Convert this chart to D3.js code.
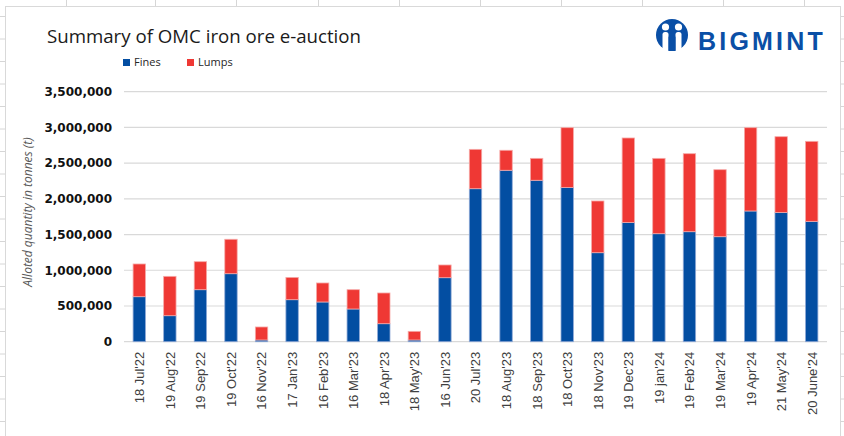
<!DOCTYPE html>
<html>
<head>
<meta charset="utf-8">
<script src="https://cdn.jsdelivr.net/npm/d3@7"></script>
<style>
  html, body { margin: 0; padding: 0; background: #ffffff; }
  svg { display: block; }
</style>
</head>
<body>
<svg id="chart" width="844" height="436"></svg>
<script>
const categories = ["18 Jul'22","19 Aug'22","19 Sep'22","19 Oct'22","16 Nov'22","17 Jan'23","16 Feb'23","16 Mar'23","18 Apr'23","18 May'23","16 Jun'23","20 Jul'23","18 Aug'23","18 Sep'23","18 Oct'23","18 Nov'23","19 Dec'23","19 jan'24","19 Feb'24","19 Mar'24","19 Apr'24","21 May'24","20 June'24"];
const fines = [630000, 364000, 728000, 952000, 24000, 588000, 556000, 458000, 252000, 24000, 896000, 2142000, 2400000, 2260000, 2160000, 1246000, 1670000, 1512000, 1540000, 1470000, 1830000, 1810000, 1685000];
const lumps = [458000, 551000, 392000, 482000, 182000, 312000, 266000, 270000, 430000, 121000, 178000, 551000, 280000, 307000, 836000, 724000, 1182000, 1055000, 1092000, 938000, 1166000, 1060000, 1120000];
const yTicks = [0, 500000, 1000000, 1500000, 2000000, 2500000, 3000000, 3500000];
const seriesNames = ["Fines", "Lumps"];
const seriesColors = ["#034ea2", "#ef3834"];
const seriesStrokes = ["#8fa9d6", "#f6a9a7"];

const svg = d3.select("#chart");

// spreadsheet background grid
const sheetV = [66, 155, 236, 318, 399, 480, 561, 642, 723, 804];
const sheetH = d3.range(0, 19).map(k => 16 + 22.5 * k);
svg.selectAll("line.sv").data(sheetV).join("line")
  .attr("x1", d => d + 0.5).attr("x2", d => d + 0.5).attr("y1", 0).attr("y2", 436)
  .attr("stroke", "#d6d6d6").attr("stroke-width", 1);
svg.selectAll("line.sh").data(sheetH).join("line")
  .attr("x1", 0).attr("x2", 844).attr("y1", d => d + 0.5).attr("y2", d => d + 0.5)
  .attr("stroke", "#d6d6d6").attr("stroke-width", 1);

// chart area
svg.append("rect").attr("x", 5.5).attr("y", 6.5).attr("width", 835).attr("height", 440)
  .attr("fill", "#ffffff").attr("stroke", "#d9d9d9").attr("stroke-width", 1);

const plotLeft = 124, plotRight = 827, plotTop = 91.7, plotBottom = 341.7;

const x = d3.scaleBand().domain(categories).range([plotLeft, plotRight])
  .paddingInner(0.595).paddingOuter(0.2975);
const y = d3.scaleLinear().domain([0, 3500000]).range([plotBottom, plotTop]);

// gridlines
svg.append("g").selectAll("line").data(yTicks).join("line")
  .attr("x1", plotLeft).attr("x2", plotRight)
  .attr("y1", d => y(d)).attr("y2", d => y(d))
  .attr("stroke", "#d9d9d9").attr("stroke-width", 1.2);

// y axis labels
const yAxis = d3.axisLeft(y).tickValues(yTicks).tickSize(0).tickPadding(0)
  .tickFormat(d3.format(","));
const gy = svg.append("g").attr("transform", `translate(112,0)`).call(yAxis);
gy.select(".domain").remove();
gy.selectAll("text")
  .attr("font-family", "DejaVu Sans, sans-serif")
  .attr("font-weight", "bold")
  .attr("font-size", 12)
  .attr("fill", "#111111");

// stacked bars
const table = categories.map((c, i) => ({ cat: c, Fines: fines[i], Lumps: lumps[i] }));
const stacked = d3.stack().keys(seriesNames)(table);
svg.append("g").selectAll("g").data(stacked).join("g")
  .attr("fill", (d, i) => seriesColors[i])
  .attr("stroke", (d, i) => seriesStrokes[i])
  .attr("stroke-width", 0.8)
  .selectAll("rect").data(d => d).join("rect")
  .attr("x", d => x(d.data.cat))
  .attr("width", x.bandwidth())
  .attr("y", d => y(d[1]))
  .attr("height", d => y(d[0]) - y(d[1]));

// x axis labels
const xAxis = d3.axisBottom(x).tickSize(0).tickPadding(0);
const gx = svg.append("g").attr("transform", `translate(0,${plotBottom})`).call(xAxis);
gx.select(".domain").remove();
gx.selectAll("text")
  .attr("font-family", "Liberation Sans, Arial, sans-serif")
  .attr("font-size", 13)
  .attr("fill", "#404040")
  .attr("text-anchor", "end")
  .attr("transform", "rotate(-90)")
  .attr("x", -10)
  .attr("y", 0)
  .attr("dx", 0)
  .attr("dy", "0.38em");

// y axis title
svg.append("text")
  .attr("transform", "translate(32,212) rotate(-90)")
  .attr("text-anchor", "middle")
  .attr("font-family", "Open Sans, sans-serif")
  .attr("font-style", "italic")
  .attr("font-size", 12)
  .attr("fill", "#595959")
  .text("Alloted quantity in tonnes (t)");

// title
svg.append("text")
  .attr("x", 47).attr("y", 43)
  .attr("font-family", "Open Sans, sans-serif")
  .attr("font-size", 19)
  .attr("fill", "#1a1a1a")
  .attr("textLength", 314)
  .attr("lengthAdjust", "spacingAndGlyphs")
  .text("Summary of OMC iron ore e-auction");

// legend
const legendX = [123, 187];
const lg = svg.append("g").selectAll("g").data(seriesNames).join("g")
  .attr("transform", (d, i) => `translate(${legendX[i]},59)`);
lg.append("rect").attr("width", 7).attr("height", 7).attr("fill", (d, i) => seriesColors[i]);
lg.append("text").attr("x", 11).attr("y", 7)
  .attr("font-family", "Open Sans, sans-serif").attr("font-size", 11)
  .attr("fill", "#262626").text(d => d);

// logo
const logo = svg.append("g");
logo.append("circle").attr("cx", 672).attr("cy", 35).attr("r", 16).attr("fill", "#0a4fa6");
logo.append("circle").attr("cx", 665.5).attr("cy", 27).attr("r", 3.6).attr("fill", "#ffffff");
logo.append("circle").attr("cx", 678.5).attr("cy", 27).attr("r", 3.6).attr("fill", "#ffffff");
logo.append("rect").attr("x", 662.5).attr("y", 32).attr("width", 6).attr("height", 22).attr("rx", 2.5).attr("fill", "#ffffff");
logo.append("rect").attr("x", 675.5).attr("y", 32).attr("width", 6).attr("height", 22).attr("rx", 2.5).attr("fill", "#ffffff");
logo.append("path").attr("d", "M668.5,36 L672,46 L675.5,36 L675.5,55 L673.5,55 L672,50 L670.5,55 L668.5,55 Z").attr("fill", "#0a4fa6");
logo.append("rect").attr("x", 656).attr("y", 51).attr("width", 32).attr("height", 6).attr("fill", "#ffffff");
logo.append("text")
  .attr("x", 698).attr("y", 50)
  .attr("font-family", "Liberation Sans, Arial, sans-serif")
  .attr("font-weight", "bold")
  .attr("font-size", 25)
  .attr("letter-spacing", 3.2)
  .attr("fill", "#0a4fa6")
  .text("BIGMINT");
</script>
</body>
</html>
